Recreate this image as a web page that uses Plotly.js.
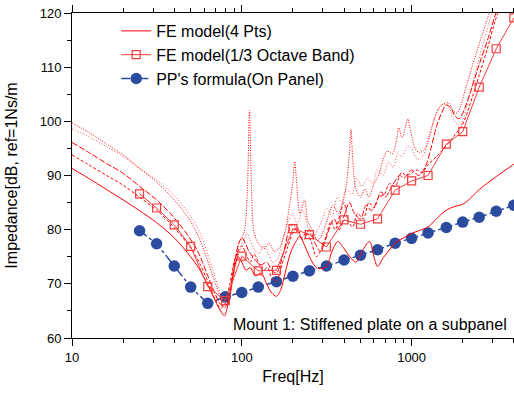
<!DOCTYPE html>
<html><head><meta charset="utf-8">
<script src="https://cdn.plot.ly/plotly-3.0.1.min.js"></script>
<style>html,body{margin:0;padding:0;background:#fff}#chart{width:514px;height:394px}</style>
</head><body><div id="chart"></div>
<script>
// ---- data ----
const bandFreq = [25,31.5,40,50,63,80,100,125,160,200,250,315,400,500,630,800,1000,1250,1600,2000,2500,3150,4000];
const feBand   = [86.6,84.0,80.9,76.9,69.5,66.9,75.1,72.4,72.5,80.2,79.1,76.8,81.8,81.0,82.0,87.3,89.0,90.0,95.8,98.1,106.3,113.4,119.1];
const ppFormula= [79.8,77.4,73.3,69.4,66.4,67.6,68.4,69.4,70.4,71.4,72.4,73.3,74.4,75.3,76.3,77.5,78.4,79.4,80.4,81.4,82.3,83.4,84.5];

const fS = [10,12.5,16,20,25,31.5,40,50,56,63,70,75,79,82,86,90,95,100,106,112,120,130,140,150,160,170,180,195,210,220,235,255,275,295,315,340,367,400,430,470,510,565,600,630,680,720,770,820,900,1000,1100,1250,1400,1600,1800,2000,2150,2500,3150,4000];
const vS = [91.3,89.5,87.4,85.5,83.5,81.3,78.5,75.0,72.8,69.8,66.8,65.0,64.1,65.5,69.0,72.5,75.0,74.0,72.5,73.0,71.5,72.0,70.0,68.3,67.7,69.0,72.0,76.0,78.0,78.8,77.0,74.5,73.0,72.8,73.2,76.0,77.8,76.5,75.1,74.0,76.0,77.8,75.0,73.2,74.8,75.8,77.0,77.8,78.5,79.3,79.8,80.5,82.0,83.6,84.3,84.7,85.4,87.4,89.8,92.1];

const fD1 = [10,12.5,16,20,25,31.5,40,50,56,63,70,75,80,84,88,92,96,100,105,110,116,123,130,140,150,160,170,180,190,200,215,230,250,270,290,310,330,350,375,400,430,460,500,540,580,620,660,700,750,800,850,900,1000,1100,1200,1300,1400,1500,1600,1700,1800,1900,2000,2200,2500,2800,3100,3300];
const vD1 = [96.1,94.3,92.2,90.4,88.0,85.5,82.2,78.2,75.5,71.5,68.0,66.2,65.8,67.5,71.5,75.0,77.5,78.5,77.5,76.0,75.0,74.0,73.5,74.0,72.5,72.0,74.0,77.0,80.0,81.0,79.5,78.0,80.0,77.5,76.0,78.0,80.5,82.0,80.0,82.5,85.0,83.0,82.0,84.5,83.5,85.0,87.0,86.0,87.5,89.0,90.0,89.5,91.0,90.0,91.5,95.0,99.0,101.5,103.0,102.5,101.0,100.5,101.5,105.0,110.5,115.0,119.5,122.0];

const fD2 = [10,12.5,16,20,25,31.5,40,50,56,63,70,75,80,85,90,95,100,106,112,118,125,133,142,150,160,172,185,200,212,225,240,258,275,295,315,335,355,380,400,420,450,480,520,560,600,640,690,740,800,870,940,1000,1080,1150,1250,1400,1600,1800,2000,2200,2500,2800,3100,3300];
const vD2 = [93.8,92.0,90.0,88.2,86.0,83.6,80.4,76.6,74.0,70.5,67.0,65.5,66.5,70.0,74.0,76.0,77.0,75.5,74.0,75.5,74.0,72.5,73.0,71.0,70.5,73.5,76.5,79.5,80.5,78.5,79.5,77.5,75.0,76.5,79.0,81.5,80.0,83.0,85.0,82.0,80.5,83.0,82.0,85.0,84.0,86.0,86.5,88.5,88.0,90.5,90.0,90.5,91.0,90.5,92.0,93.5,95.5,97.5,99.5,103.0,108.5,113.5,118.5,121.0];

const fP1 = [10,12.5,16,20,25,31.5,40,50,56,63,70,75,80,84,88,92,96,100,104,108,111,114,118,125,135,145,155,165,178,190,200,205,210,220,234,245,260,280,300,320,345,370,395,415,430,440,450,470,500,530,560,600,640,680,720,770,820,840,880,920,950,990,1050,1110,1200,1300,1400,1500,1650,1750,1850,1950,2100,2400,2700,2900];
const vP1 = [99.7,98.0,95.8,93.8,91.3,88.8,85.5,81.5,78.5,74.2,70.0,67.5,66.0,67.0,70.5,74.5,77.5,78.5,80.0,88.0,102.0,88.0,79.5,77.5,76.5,77.5,76.0,76.5,79.0,84.0,89.0,92.6,89.0,83.0,85.5,81.5,80.0,78.0,79.5,82.0,84.5,83.0,85.5,89.0,94.0,98.5,93.0,87.5,86.0,87.5,86.0,88.5,90.0,93.0,94.5,94.0,97.0,98.8,97.0,99.0,100.4,98.0,95.0,94.2,95.0,98.5,101.5,103.0,103.4,102.0,101.5,103.0,106.5,112.5,117.5,120.5];

const fP2 = [10,12.5,16,20,25,31.5,40,50,56,63,70,75,80,84,88,92,97,102,107,112,118,126,134,143,152,162,175,188,200,212,228,245,262,280,300,318,340,365,390,415,445,475,510,550,590,630,680,730,780,830,880,950,1000,1080,1150,1250,1350,1450,1550,1650,1750,1850,1950,2100,2400,2700,3000];
const vP2 = [98.6,97.2,95.3,93.5,91.3,89.2,86.3,82.5,79.8,75.5,71.0,68.0,65.5,66.5,70.0,73.5,76.0,77.5,79.5,78.0,76.5,75.5,77.0,75.5,74.0,74.5,78.5,81.5,83.0,81.0,83.5,80.5,78.5,80.0,82.0,84.0,82.5,86.0,85.0,87.5,86.5,89.5,88.0,89.5,88.5,91.0,90.0,92.5,91.5,94.0,93.5,95.5,95.0,93.0,93.5,96.0,100.0,102.5,103.2,102.8,100.5,99.5,99.3,102.5,109.5,115.5,120.5];

const xTicks = [10,100,1000];
const xTickText = ['10','100','1000'];
const xMinor = [20,30,40,50,60,70,80,90,200,300,400,500,600,700,800,900,2000,3000,4000];
const yTicks = [60,70,80,90,100,110,120];

// ---- styling ----
const RED = 'rgb(255,0,0)';
const BLUE = '#2a4b9e';
const FONT = 'Liberation Sans, Arial, sans-serif';
const SM = 0.9;

const traces = [
  {x: bandFreq, y: ppFormula, mode:'lines+markers', name:"PP's formula(On Panel)", legendrank:3,
   line:{color:BLUE, width:1.5, dash:'dashdot'}, marker:{color:BLUE, size:11.5, symbol:'circle'}},
  {x: fP1, y: vP1, mode:'lines', showlegend:false, line:{color:RED, width:1, dash:'1px,1.5px', shape:'spline', smoothing:SM}},
  {x: fP2, y: vP2, mode:'lines', showlegend:false, line:{color:'rgb(255,80,80)', width:1, dash:'1px,2px', shape:'spline', smoothing:SM}},
  {x: fD1, y: vD1, mode:'lines', showlegend:false, line:{color:RED, width:1, dash:'6px,2px', shape:'spline', smoothing:SM}},
  {x: fD2, y: vD2, mode:'lines', showlegend:false, line:{color:RED, width:1, dash:'3px,2px', shape:'spline', smoothing:SM}},
  {x: fS, y: vS, mode:'lines', name:'FE model(4 Pts)', legendrank:1, line:{color:RED, width:1, shape:'spline', smoothing:SM}},
  {x: bandFreq, y: feBand, mode:'lines+markers', name:'FE model(1/3 Octave Band)', legendrank:2,
   line:{color:'rgb(245,60,60)', width:1}, marker:{symbol:'square-open', size:8, color:'rgb(245,60,60)', line:{width:1.2}}}
];

const layout = {
  width:514, height:394,
  margin:{l:72, r:0, t:13, b:56},
  paper_bgcolor:'#fff', plot_bgcolor:'#fff',
  font:{family:FONT, color:'#000', size:13},
  showlegend:true,
  legend:{x:0.1, y:0.997, xanchor:'left', yanchor:'top', bgcolor:'rgba(0,0,0,0)', borderwidth:0,
          font:{family:FONT, size:16, color:'#000'}, tracegroupgap:0},
  xaxis:{type:'log', range:[1, 3.603], showgrid:false, zeroline:false,
         showline:true, linecolor:'#000', linewidth:1, mirror:'ticks',
         tickmode:'array', tickvals:xTicks, ticktext:xTickText,
         ticks:'outside', ticklen:7, tickwidth:1, tickcolor:'#000',
         tickfont:{family:FONT, size:13, color:'#000'},
         minor:{tickmode:'array', tickvals:xMinor, ticks:'outside', ticklen:4, tickwidth:1, tickcolor:'#000', showgrid:false},
         title:{text:'Freq[Hz]', font:{family:FONT, size:16, color:'#000'}, standoff:7}},
  yaxis:{range:[60,120], showgrid:false, zeroline:false,
         showline:true, linecolor:'#000', linewidth:1, mirror:'ticks',
         tickmode:'array', tickvals:yTicks,
         ticks:'outside', ticklen:7, tickwidth:1, tickcolor:'#000',
         tickfont:{family:FONT, size:13, color:'#000'},
         minor:{dtick:5, ticks:'outside', ticklen:4, tickwidth:1, tickcolor:'#000', showgrid:false},
         title:{text:'Impedance[dB, ref=1Ns/m', font:{family:FONT, size:16, color:'#000'}, standoff:18}},
  annotations:[{xref:'paper', yref:'paper', x:0.988, y:0.043, xanchor:'right', yanchor:'middle',
                text:'Mount 1: Stiffened plate on a subpanel', showarrow:false,
                font:{family:FONT, size:16, color:'#000'}}]
};

Plotly.newPlot('chart', traces, layout, {displayModeBar:false, staticPlot:true});
</script></body></html>
